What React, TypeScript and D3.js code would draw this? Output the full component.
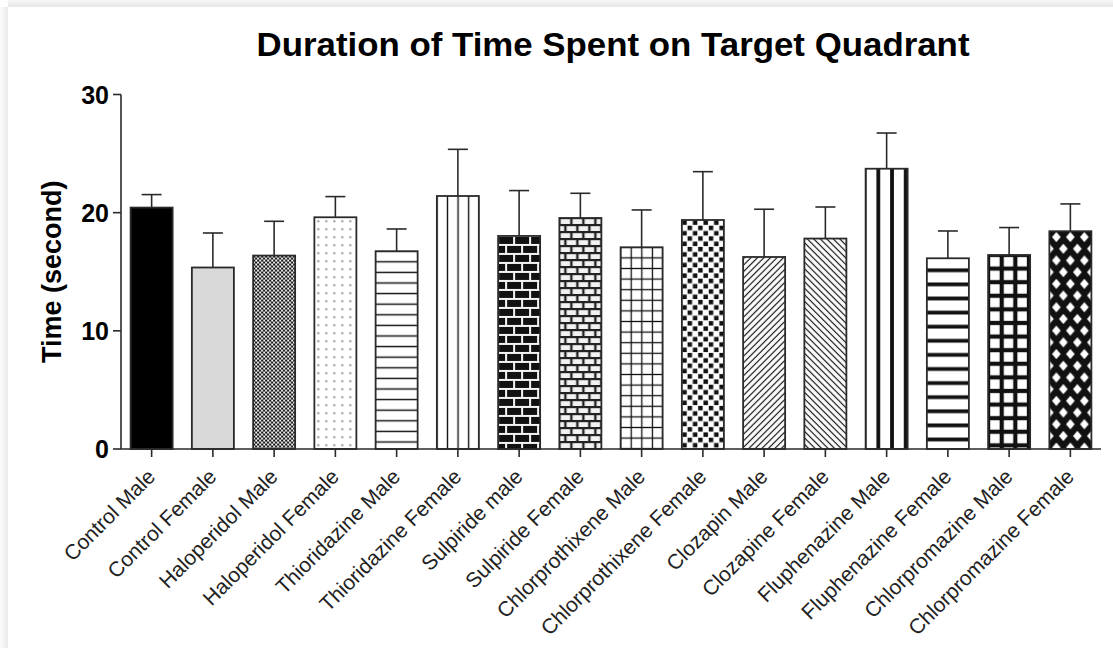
import React from "react";
import * as d3 from "d3";

const categories = [
  "Control Male", "Control Female", "Haloperidol Male", "Haloperidol Female",
  "Thioridazine Male", "Thioridazine Female", "Sulpiride male", "Sulpiride Female",
  "Chlorprothixene Male", "Chlorprothixene Female", "Clozapin Male", "Clozapine Female",
  "Fluphenazine Male", "Fluphenazine Female", "Chlorpromazine Male", "Chlorpromazine Female",
];
const means = [20.43, 15.36, 16.37, 19.61, 16.74, 21.41, 18.03, 19.55, 17.07, 19.38, 16.25, 17.81, 23.72, 16.14, 16.42, 18.43];
const errors = [1.1, 2.92, 2.9, 1.75, 1.88, 3.95, 3.84, 2.09, 3.16, 4.09, 4.04, 2.67, 3.02, 2.31, 2.32, 2.31];
const yTicks = [0, 10, 20, 30];
const title = "Duration of Time Spent on Target Quadrant";
const yLabel = "Time (second)";

const W = 1113, H = 648;
const X0 = 121, X1 = 1101, Y0 = 449, Y1 = 94.5;
const INK = "#2a2a2a";

function Pattern({ i, x, top }: { i: number; x: number; top: number }) {
  const id = `p${i}`;
  const k = "#111";
  switch (i) {
    case 2:
      return (
        <pattern id={id} patternUnits="userSpaceOnUse" x={x} y={top} width={4} height={4}>
          <rect width={4} height={4} fill="#fff" />
          <circle cx={1} cy={1} r={1.25} fill={k} />
          <circle cx={3} cy={3} r={1.25} fill={k} />
        </pattern>
      );
    case 3:
      return (
        <pattern id={id} patternUnits="userSpaceOnUse" x={x} y={top} width={8} height={8}>
          <rect width={8} height={8} fill="#fff" />
          <circle cx={4} cy={4} r={0.9} fill="#666" />
        </pattern>
      );
    case 4: {
      const p = 10.6;
      return (
        <pattern id={id} patternUnits="userSpaceOnUse" x={x} y={top - p / 2} width={50} height={p}>
          <rect width={50} height={p} fill="#fff" />
          <line x1={0} x2={50} y1={p / 2} y2={p / 2} stroke={k} strokeWidth={1.3} />
        </pattern>
      );
    }
    case 5: {
      const p = 10.6;
      return (
        <pattern id={id} patternUnits="userSpaceOnUse" x={x - p / 2} y={0} width={p} height={50}>
          <rect width={p} height={50} fill="#fff" />
          <line y1={0} y2={50} x1={p / 2} x2={p / 2} stroke={k} strokeWidth={1.4} />
        </pattern>
      );
    }
    case 6:
      return (
        <pattern id={id} patternUnits="userSpaceOnUse" x={x} y={top} width={16} height={18}>
          <rect width={16} height={18} fill="#f4f4f4" />
          <rect x={1} y={1} width={14} height={7} fill={k} />
          <rect x={9} y={10} width={14} height={7} fill={k} />
          <rect x={-7} y={10} width={14} height={7} fill={k} />
        </pattern>
      );
    case 7:
      return (
        <pattern id={id} patternUnits="userSpaceOnUse" x={x} y={top} width={12} height={14}>
          <rect width={12} height={14} fill="#222" />
          <rect x={1.2} y={1.2} width={9.6} height={4.8} fill="#f2f2f2" />
          <rect x={7.2} y={8.2} width={9.6} height={4.8} fill="#f2f2f2" />
          <rect x={-4.8} y={8.2} width={9.6} height={4.8} fill="#f2f2f2" />
        </pattern>
      );
    case 8: {
      const p = 10.6;
      return (
        <pattern id={id} patternUnits="userSpaceOnUse" x={x - p / 2} y={top - p / 2} width={p} height={p}>
          <rect width={p} height={p} fill="#fff" />
          <line x1={0} x2={p} y1={p / 2} y2={p / 2} stroke={k} strokeWidth={1.3} />
          <line y1={0} y2={p} x1={p / 2} x2={p / 2} stroke={k} strokeWidth={1.3} />
        </pattern>
      );
    }
    case 9: {
      const c = 5.3;
      return (
        <pattern id={id} patternUnits="userSpaceOnUse" x={x} y={top} width={2 * c} height={2 * c}>
          <rect width={2 * c} height={2 * c} fill="#fff" />
          <rect x={0.4} y={0.4} width={c - 0.8} height={c - 0.8} fill={k} />
          <rect x={c + 0.4} y={c + 0.4} width={c - 0.8} height={c - 0.8} fill={k} />
        </pattern>
      );
    }
    case 10:
    case 11: {
      const p = 4.6;
      return (
        <pattern id={id} patternUnits="userSpaceOnUse" x={x} y={top} width={p} height={p}
          patternTransform={i === 10 ? "rotate(45)" : "rotate(-45)"}>
          <rect width={p} height={p} fill="#fff" />
          <line y1={0} y2={p} x1={p / 2} x2={p / 2} stroke={k} strokeWidth={1.2} />
        </pattern>
      );
    }
    case 12: {
      const p = 13.7;
      return (
        <pattern id={id} patternUnits="userSpaceOnUse" x={x + 12.7 - p / 2} y={0} width={p} height={50}>
          <rect width={p} height={50} fill="#fff" />
          <rect x={p / 2 - 1.9} y={0} width={3.8} height={50} fill={k} />
        </pattern>
      );
    }
    case 13: {
      const p = 14.1;
      return (
        <pattern id={id} patternUnits="userSpaceOnUse" x={0} y={top + 12 - p / 2} width={50} height={p}>
          <rect width={50} height={p} fill="#fff" />
          <rect y={p / 2 - 1.9} x={0} height={3.8} width={50} fill={k} />
        </pattern>
      );
    }
    case 14: {
      const p = 13.6;
      return (
        <pattern id={id} patternUnits="userSpaceOnUse" x={x - p / 2} y={top - p / 2} width={p} height={p}>
          <rect width={p} height={p} fill="#fff" />
          <rect x={0} y={p / 2 - 2.1} width={p} height={4.2} fill={k} />
          <rect y={0} x={p / 2 - 2.1} height={p} width={4.2} fill={k} />
        </pattern>
      );
    }
    case 15: {
      const w = 14, h = 23.4;
      const dia = (cx: number, cy: number) =>
        `M${cx - 4.3},${cy} L${cx},${cy - 5.2} L${cx + 4.3},${cy} L${cx},${cy + 5.2} Z`;
      return (
        <pattern id={id} patternUnits="userSpaceOnUse" x={x} y={top} width={w} height={h}>
          <rect width={w} height={h} fill={k} />
          <path d={dia(7, 5.85)} fill="#fff" />
          <path d={dia(0, 17.55)} fill="#fff" />
          <path d={dia(14, 17.55)} fill="#fff" />
        </pattern>
      );
    }
    default:
      return null;
  }
}

export default function App() {
  const x = d3.scaleBand<string>().domain(categories).range([X0, X1]).paddingInner(0.314).paddingOuter(0.157);
  const y = d3.scaleLinear().domain([0, 30]).range([Y0, Y1]);
  const bw = x.bandwidth();

  const fillFor = (i: number) => (i === 0 ? "#000" : i === 1 ? "#d9d9d9" : `url(#p${i})`);

  return (
    <svg width={W} height={H} style={{ position: "fixed", left: 0, top: 0, background: "#fff" }}
      fontFamily="'Liberation Sans', Arial, sans-serif">
      <defs>
        <linearGradient id="shTop" x1="0" y1="0" x2="0" y2="1">
          <stop offset="0" stopColor="#f6f6f6" />
          <stop offset="1" stopColor="#e6e6e6" />
        </linearGradient>
        <linearGradient id="shLeft" x1="0" y1="0" x2="1" y2="0">
          <stop offset="0" stopColor="#fbfbfb" />
          <stop offset="1" stopColor="#eaeaea" />
        </linearGradient>
        {categories.map((c, i) => (
          <Pattern key={c} i={i} x={x(c)!} top={y(means[i])} />
        ))}
      </defs>
      <rect x={0} y={0} width={W} height={H} fill="#fff" />
      <rect x={8} y={0} width={W - 8} height={7} fill="url(#shTop)" />
      <rect x={0} y={7} width={8} height={H - 7} fill="url(#shLeft)" />

      <text x={(X0 + X1) / 2 + 2} y={56} textAnchor="middle" fontSize={34} fontWeight="bold"
        textLength={713} lengthAdjust="spacingAndGlyphs" fill="#000">{title}</text>

      {categories.map((c, i) => {
        const bx = x(c)!;
        const top = y(means[i]);
        const cx = bx + bw / 2;
        const et = y(means[i] + errors[i]);
        return (
          <g key={c}>
            <line x1={cx} x2={cx} y1={top} y2={et} stroke={INK} strokeWidth={1.6} />
            <line x1={cx - 10} x2={cx + 10} y1={et} y2={et} stroke={INK} strokeWidth={1.6} />
            <rect x={bx} y={top} width={bw} height={Y0 - top} fill={fillFor(i)} stroke={INK} strokeWidth={1.8} />
          </g>
        );
      })}

      <line x1={X0} x2={X0} y1={Y1} y2={Y0} stroke={INK} strokeWidth={1.6} />
      <line x1={X0} x2={X1} y1={Y0} y2={Y0} stroke={INK} strokeWidth={1.6} />
      {yTicks.map((t) => (
        <g key={t}>
          <line x1={X0 - 8} x2={X0} y1={y(t)} y2={y(t)} stroke={INK} strokeWidth={1.6} />
          <text x={X0 - 12} y={y(t)} dy="0.36em" textAnchor="end" fontSize={25} fontWeight="bold" fill="#000">{t}</text>
        </g>
      ))}
      {categories.map((c) => {
        const cx = x(c)! + bw / 2;
        return (
          <g key={c}>
            <line x1={cx} x2={cx} y1={Y0} y2={Y0 + 8} stroke={INK} strokeWidth={1.6} />
            <text transform={`translate(${cx + 5},${478}) rotate(-45)`} textAnchor="end" fontSize={21} fill="#222">{c}</text>
          </g>
        );
      })}
      <text transform={`translate(${61},${(Y0 + Y1) / 2}) rotate(-90)`} textAnchor="middle" fontSize={27}
        fontWeight="bold" fill="#000">{yLabel}</text>
    </svg>
  );
}
